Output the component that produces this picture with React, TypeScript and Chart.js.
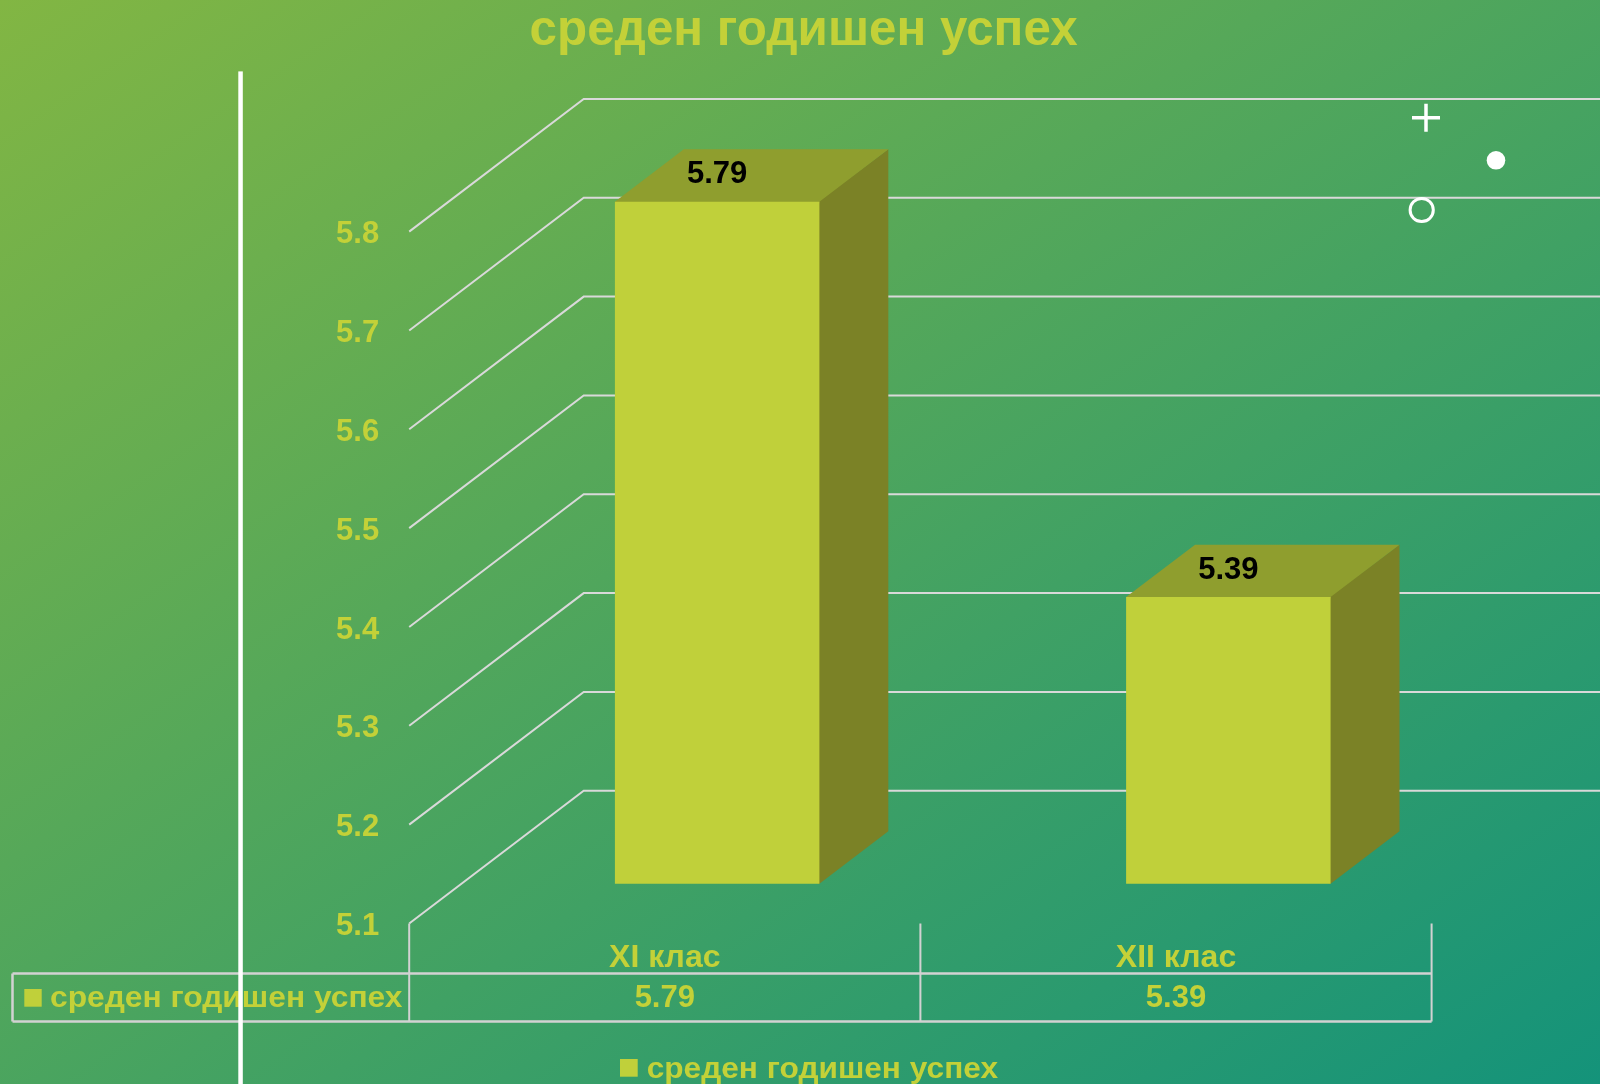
import React, { useEffect, useRef } from 'react';
import { Chart, registerables } from 'chart.js';

Chart.register(...registerables);

// ---- data ----
const categories = ['XI клас', 'XII клас'];
const seriesName = 'среден годишен успех';
const values = [5.79, 5.39];
const valueLabels = ['5.79', '5.39'];
const titleText = 'среден годишен успех';
const yMin = 5.1;
const yMax = 5.8;
const yStep = 0.1;

// ---- style ----
const FONT = '"Liberation Sans", Arial, sans-serif';
const TEXT = '#c3d138';
const BAR_FRONT = '#c0d03a';
const BAR_TOP = '#8f9e2e';
const BAR_SIDE = '#7b8226';
const GRID = '#d9d9d9';
const TABLE_LINE = '#d2d2d2';
const DX = 174.5;
const DY = -132.7;
const F0 = 0.3;
const F1 = 0.695;

function poly(ctx: CanvasRenderingContext2D, pts: number[][]) {
  ctx.beginPath();
  ctx.moveTo(pts[0][0], pts[0][1]);
  for (let i = 1; i < pts.length; i++) ctx.lineTo(pts[i][0], pts[i][1]);
  ctx.closePath();
  ctx.fill();
}

function fitText(ctx: CanvasRenderingContext2D, text: string, x: number, y: number, w: number, align: CanvasTextAlign) {
  const m = ctx.measureText(text).width;
  const s = w / m;
  ctx.save();
  ctx.translate(x, y);
  ctx.scale(s, 1);
  ctx.textAlign = align;
  ctx.fillText(text, 0, 0);
  ctx.restore();
}

const threeD = {
  id: 'threeD',
  beforeDatasetsDraw(chart: any) {
    const ctx: CanvasRenderingContext2D = chart.ctx;
    const { left } = chart.chartArea;
    const ys = chart.scales.y;
    ctx.save();
    ctx.strokeStyle = GRID;
    ctx.lineWidth = 2;
    ys.ticks.forEach((t: any) => {
      const y = ys.getPixelForValue(t.value);
      ctx.beginPath();
      ctx.moveTo(left, y);
      ctx.lineTo(left + DX, y + DY);
      ctx.lineTo(chart.width, y + DY);
      ctx.stroke();
    });
    const meta = chart.getDatasetMeta(0);
    meta.data.forEach((bar: any) => {
      const { x, y, base, width } = bar.getProps(['x', 'y', 'base', 'width'], true);
      const x0 = x - width / 2;
      const x1 = x + width / 2;
      const fx = F0 * DX, fy = F0 * DY, bx = F1 * DX, by = F1 * DY;
      ctx.fillStyle = BAR_SIDE;
      poly(ctx, [[x1 + fx - 1.5, y + fy], [x1 + bx, y + by], [x1 + bx, base + by], [x1 + fx, base + fy], [x1 + fx - 1.5, base + fy]]);
      ctx.fillStyle = BAR_TOP;
      poly(ctx, [[x0 + fx, y + fy + 1.5], [x1 + fx, y + fy + 1.5], [x1 + fx, y + fy], [x1 + bx, y + by], [x0 + bx, y + by], [x0 + fx, y + fy]]);
    });
    ctx.restore();
    ctx.save();
    ctx.translate(F0 * DX, F0 * DY);
  },
  afterDatasetsDraw(chart: any) {
    const ctx: CanvasRenderingContext2D = chart.ctx;
    ctx.restore();
    const { left, right, bottom } = chart.chartArea;
    const xs = chart.scales.x;
    const meta = chart.getDatasetMeta(0);
    ctx.save();
    ctx.textBaseline = 'alphabetic';

    // value labels on top of bars
    ctx.fillStyle = '#000';
    ctx.font = `bold 31px ${FONT}`;
    ctx.textAlign = 'center';
    meta.data.forEach((bar: any, i: number) => {
      const { x, y } = bar.getProps(['x', 'y'], true);
      ctx.fillText(valueLabels[i], x + F0 * DX, y + F0 * DY - 18.5);
    });

    // data table lines
    const tTop = 973.5, tBot = 1021.5, tLeft = 12.5;
    ctx.strokeStyle = TABLE_LINE;
    ctx.lineWidth = 2.5;
    ctx.beginPath();
    ctx.moveTo(tLeft, tTop); ctx.lineTo(right, tTop);
    ctx.moveTo(tLeft, tBot); ctx.lineTo(right, tBot);
    ctx.moveTo(tLeft, tTop); ctx.lineTo(tLeft, tBot);
    ctx.stroke();
    ctx.lineWidth = 2;
    const edges = [left, (xs.getPixelForValue(0) + xs.getPixelForValue(1)) / 2, right];
    ctx.beginPath();
    edges.forEach((ex) => { ctx.moveTo(ex, bottom); ctx.lineTo(ex, tBot); });
    ctx.stroke();

    // category labels and table values
    ctx.fillStyle = TEXT;
    ctx.textAlign = 'center';
    categories.forEach((c, i) => {
      const cx = xs.getPixelForValue(i);
      ctx.font = `bold 32px ${FONT}`;
      ctx.fillText(c, cx, 966.7);
      ctx.font = `bold 31px ${FONT}`;
      ctx.fillText(valueLabels[i], cx, 1007);
    });

    // row header
    ctx.fillStyle = BAR_FRONT;
    ctx.fillRect(24.3, 989, 17.4, 17.7);
    ctx.fillStyle = TEXT;
    ctx.font = `bold 30px ${FONT}`;
    fitText(ctx, seriesName, 50, 1006.7, 352.5, 'left');

    // legend
    ctx.fillStyle = BAR_FRONT;
    ctx.fillRect(620, 1059, 17.7, 17.7);
    ctx.fillStyle = TEXT;
    ctx.font = `bold 30px ${FONT}`;
    fitText(ctx, seriesName, 646.7, 1078, 351.3, 'left');

    // title
    ctx.font = `bold 50px ${FONT}`;
    fitText(ctx, titleText, 803.6, 45, 548, 'center');

    // decorations
    ctx.strokeStyle = '#ffffff';
    ctx.fillStyle = '#ffffff';
    ctx.lineWidth = 3.5;
    ctx.beginPath();
    ctx.moveTo(1412, 117.7); ctx.lineTo(1440, 117.7);
    ctx.moveTo(1426, 103.7); ctx.lineTo(1426, 131.7);
    ctx.stroke();
    ctx.beginPath();
    ctx.arc(1496, 160.3, 9.3, 0, Math.PI * 2);
    ctx.fill();
    ctx.lineWidth = 3;
    ctx.beginPath();
    ctx.arc(1421.7, 210, 11.6, 0, Math.PI * 2);
    ctx.stroke();

    // white vertical rule
    ctx.fillRect(238.3, 71.4, 4.5, chart.height - 71.4);
    ctx.restore();
  },
};

export default function App() {
  const ref = useRef<HTMLCanvasElement | null>(null);
  useEffect(() => {
    if (!ref.current) return;
    const chart = new Chart(ref.current, {
      type: 'bar',
      data: {
        labels: categories,
        datasets: [
          {
            label: seriesName,
            data: values,
            base: yMin,
            backgroundColor: BAR_FRONT,
            borderWidth: 0,
            categoryPercentage: 0.4,
            barPercentage: 1,
            clip: false as any,
          } as any,
        ],
      },
      options: {
        responsive: true,
        maintainAspectRatio: false,
        animation: false,
        layout: { padding: { top: 231.6, bottom: 160.5, right: 168.4, left: 0 } },
        plugins: {
          legend: { display: false },
          title: { display: false },
          tooltip: { enabled: false },
        },
        scales: {
          x: { display: false },
          y: {
            min: yMin,
            max: yMax,
            border: { display: false },
            grid: { display: false, drawTicks: false },
            ticks: {
              stepSize: yStep,
              padding: 30,
              labelOffset: 3,
              color: TEXT,
              font: { family: FONT, size: 31, weight: 'bold' },
              callback: (v: any) => Number(v).toFixed(1),
            },
            afterFit: (s: any) => {
              s.width = 409.2;
            },
          },
        },
      },
      plugins: [threeD],
    });
    return () => chart.destroy();
  }, []);
  return (
    <div
      style={{
        position: 'fixed',
        left: 0,
        top: 0,
        width: 1600,
        height: 1084,
        background: 'linear-gradient(to bottom right, #82b643, #14937a)',
      }}
    >
      <canvas ref={ref} />
    </div>
  );
}
